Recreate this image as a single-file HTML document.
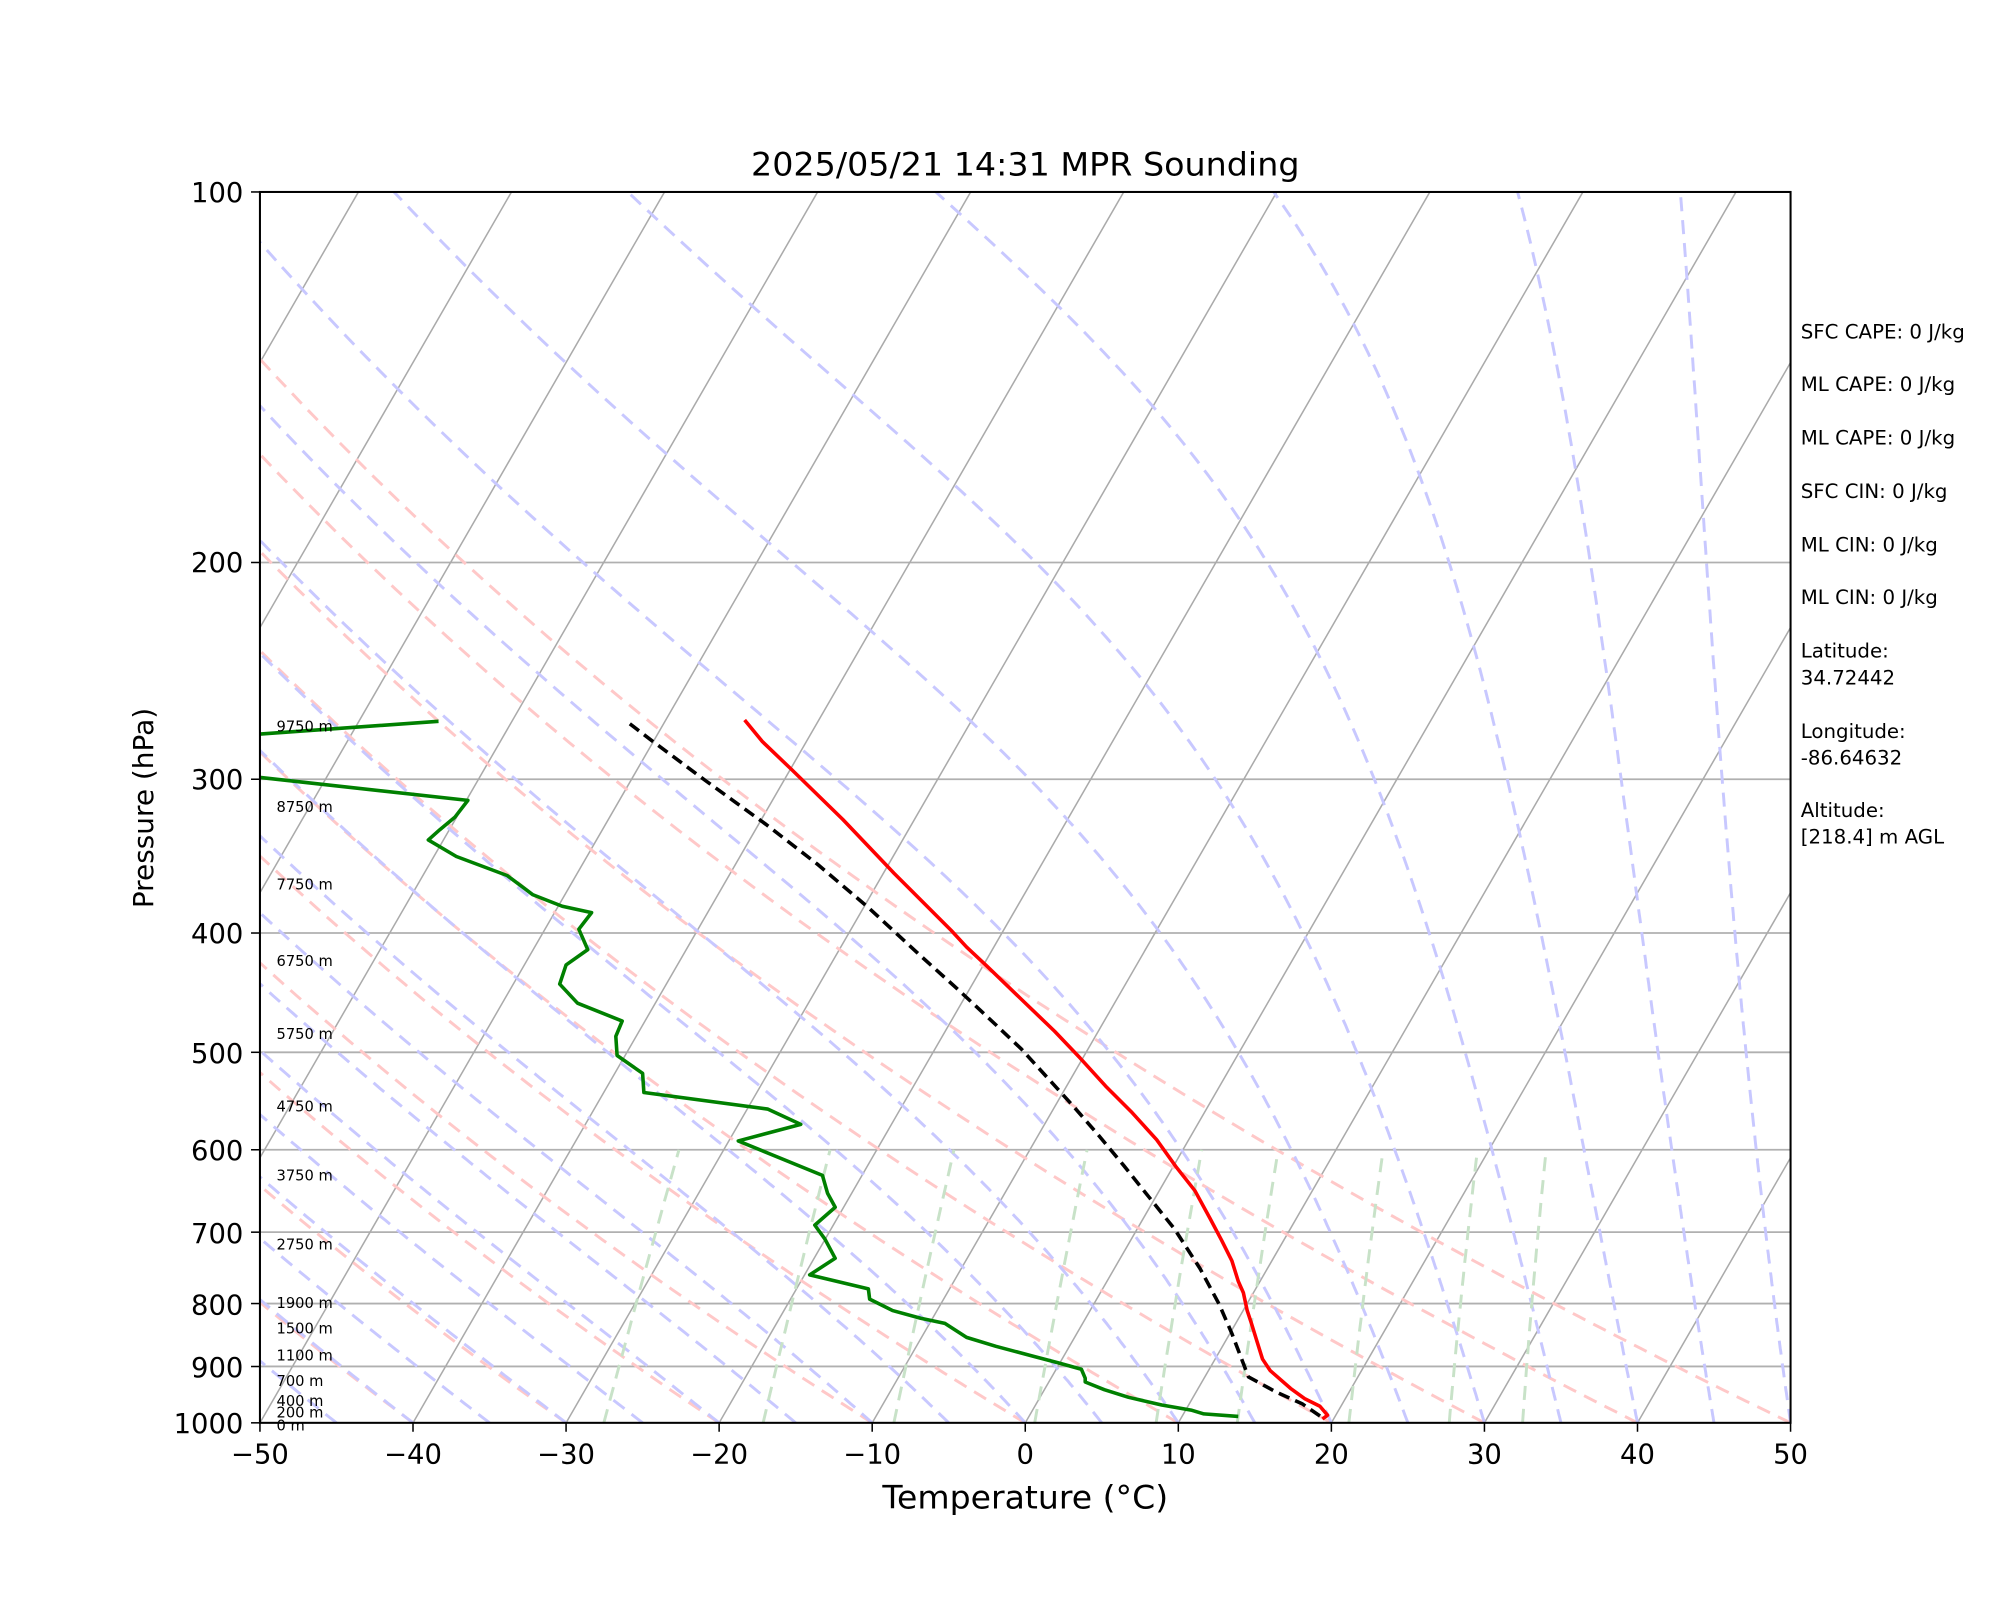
<!DOCTYPE html>
<html><head><meta charset="utf-8"><style>html,body{margin:0;padding:0;background:#fff}svg{display:block}</style></head>
<body>
<svg id="s" xmlns="http://www.w3.org/2000/svg" width="2000" height="1600" viewBox="-0.8 -0.5 1568 1254.4" preserveAspectRatio="none" font-family="DejaVu Sans, Liberation Sans, sans-serif">
<rect x="-1" y="-1" width="1570" height="1256" fill="#fff"/>
<defs><clipPath id="c"><rect x="203" y="150" width="1200" height="965"/></clipPath></defs>
<g id="bg" clip-path="url(#c)"></g>
<g clip-path="url(#c)" fill="none" stroke-linejoin="round">
<polyline stroke="#008000" stroke-width="2.8" points="343,565 203,575 150,579"/>
<polyline stroke="#008000" stroke-width="2.8" points="150,605 203,609 366,627 356,640 344,650 335,658 357,671 397,686 417,701 440,710 463,715 453,728 460,744 443,756 438,771 452,786 487,800 482,812 483,827 503,841 504,856 601,869 627,881 578,894 644,921 648,935 654,946 638,960 646,971 654,986 634,999 680,1010 681,1018 699,1027 721,1033 740,1037 757,1048 780,1055 810,1063 829,1068 847,1073 850,1080 850,1083 865,1089 884,1095 910,1101 933,1105 943,1108 970,1110"/>
<polyline stroke="#000" stroke-width="2.8" stroke-dasharray="9,5" points="493,567 510,580 553,612 600,646 640,677 680,711 720,748 750,775 780,803 800,822 820,844 840,866 860,889 880,913 900,938 920,963 940,994 955,1022 965,1045 978,1079 1000,1091 1020,1100 1036,1111"/>
<polyline stroke="#f00" stroke-width="2.8" points="583,564 597,581 620,603 660,642 700,684 745,729 757,742 773,757 800,783 826,808 846,829 866,851 886,871 906,893 921,914 936,933 948,955 957,972 965,988 970,1004 974,1013 977,1027 980,1036 984,1049 989,1065 995,1074 1011,1088 1022,1096 1034,1102 1040,1109 1036,1112"/>
</g>
<rect x="203" y="150" width="1200" height="965" fill="none" stroke="#000" stroke-width="1.6"/>
<g id="ticks" stroke="#000" stroke-width="1.2"></g>
<g font-size="21.5" fill="#000">
<text x="190" y="158" text-anchor="end">100</text>
<text x="190" y="448" text-anchor="end">200</text>
<text x="190" y="618" text-anchor="end">300</text>
<text x="190" y="739" text-anchor="end">400</text>
<text x="190" y="833" text-anchor="end">500</text>
<text x="190" y="909" text-anchor="end">600</text>
<text x="190" y="974" text-anchor="end">700</text>
<text x="190" y="1030" text-anchor="end">800</text>
<text x="190" y="1079" text-anchor="end">900</text>
<text x="190" y="1123" text-anchor="end">1000</text>
<g text-anchor="middle">
<text x="203" y="1147">−50</text><text x="323" y="1147">−40</text><text x="443" y="1147">−30</text><text x="563" y="1147">−20</text><text x="683" y="1147">−10</text><text x="803" y="1147">0</text><text x="923" y="1147">10</text><text x="1043" y="1147">20</text><text x="1163" y="1147">30</text><text x="1283" y="1147">40</text><text x="1403" y="1147">50</text>
</g>
<text x="803" y="1182" text-anchor="middle" font-size="25" textLength="224" lengthAdjust="spacingAndGlyphs">Temperature (°C)</text>
<text transform="translate(119,633) rotate(-90)" text-anchor="middle" font-size="21.5" textLength="157" lengthAdjust="spacingAndGlyphs">Pressure (hPa)</text>
<text x="803" y="137" text-anchor="middle" font-size="25" textLength="430" lengthAdjust="spacingAndGlyphs">2025/05/21 14:31 MPR Sounding</text>
</g>
<g font-size="11.5" fill="#000">
<text x="216" y="573">9750 m</text><text x="216" y="636">8750 m</text><text x="216" y="697">7750 m</text><text x="216" y="757">6750 m</text><text x="216" y="814">5750 m</text><text x="216" y="871">4750 m</text><text x="216" y="925">3750 m</text><text x="216" y="979">2750 m</text><text x="216" y="1025">1900 m</text><text x="216" y="1045">1500 m</text><text x="216" y="1066">1100 m</text><text x="216" y="1086">700 m</text><text x="216" y="1102">400 m</text><text x="216" y="1111">200 m</text><text x="216" y="1121">0 m</text>
</g>
<g font-size="15.5" fill="#000">
<text x="1411" y="265">SFC CAPE: 0 J/kg</text>
<text x="1411" y="306">ML CAPE: 0 J/kg</text>
<text x="1411" y="348">ML CAPE: 0 J/kg</text>
<text x="1411" y="390">SFC CIN: 0 J/kg</text>
<text x="1411" y="432">ML CIN: 0 J/kg</text>
<text x="1411" y="473">ML CIN: 0 J/kg</text>
<text x="1411" y="515">Latitude:</text><text x="1411" y="536">34.72442</text>
<text x="1411" y="578">Longitude:</text><text x="1411" y="599">-86.64632</text>
<text x="1411" y="640">Altitude:</text><text x="1411" y="661">[218.4] m AGL</text>
</g>
</svg>
<script>
(function(){
var NS="http://www.w3.org/2000/svg";
var L=203,R=1403,T=150,B=1115;
function Y(p){return B-965*Math.log10(1000/p);}
function X(t,p){return L+(t+50)*12+0.5774*(B-Y(p));}
var bg=document.getElementById("bg");
function add(pts,stroke,w,dash){
 var e=document.createElementNS(NS,"polyline");
 e.setAttribute("points",pts.map(function(q){return q[0].toFixed(1)+","+q[1].toFixed(1)}).join(" "));
 e.setAttribute("fill","none");e.setAttribute("stroke",stroke);e.setAttribute("stroke-width",w);
 if(dash)e.setAttribute("stroke-dasharray",dash);
 bg.appendChild(e);
}
[200,300,400,500,600,700,800,900].forEach(function(p){add([[L,Y(p)],[R,Y(p)]],"#b0b0b0",1.4);});
for(var t=-160;t<=50;t+=10){add([[X(t,1000),B],[X(t,100),T]],"#aaaaaa",1.2);}
for(var t0=-150;t0<=50;t0+=10){var th=t0+273.15,pts=[];for(var p=1000;p>=100;p-=10){var tk=th*Math.pow(p/1000,0.2857);pts.push([X(tk-273.15,p),Y(p)]);}add(pts,"#ffc8c8",2.3,"11,7");}
function es(tc){return 6.112*Math.exp(17.67*tc/(tc+243.5));}
function f(p,Tk){var tc=Tk-273.15,e=es(tc),rs=0.622*e/Math.max(p-e,1),Rd=287.04,cp=1005.7,Lv=2.501e6;return (Rd*Tk+Lv*rs)/(cp+Lv*Lv*rs*0.622/(Rd*Tk*Tk))/p;}
for(var t0=-50;t0<=50;t0+=5){var Tk=t0+273.15,p=1000,pts=[[X(t0,1000),Y(1000)]],dp=-5;while(p>100){var k1=f(p,Tk),k2=f(p+dp,Tk+dp*k1);Tk+=dp*(k1+k2)/2;p+=dp;pts.push([X(Tk-273.15,p),Y(p)]);}add(pts,"#c8c8ff",2.3,"11,7");}
[0.0004,0.001,0.002,0.004,0.007,0.01,0.016,0.024,0.032].forEach(function(w){var pts=[];for(var p=1000;p>=600;p-=20){var e=p*w/(0.622+w),l=Math.log(e/6.112),td=243.5*l/(17.67-l);pts.push([X(td,p),Y(p)]);}add(pts,"#c8e2c8",2.3,"11,7");});
var tk=document.getElementById("ticks");
function ln(x1,y1,x2,y2){var e=document.createElementNS(NS,"line");e.setAttribute("x1",x1);e.setAttribute("y1",y1);e.setAttribute("x2",x2);e.setAttribute("y2",y2);tk.appendChild(e);}
[100,200,300,400,500,600,700,800,900,1000].forEach(function(p){ln(L-7,Y(p),L,Y(p));});
for(var t=-50;t<=50;t+=10){var x=L+(t+50)*12;ln(x,B,x,B+7);}
})();
</script>
</body></html>
